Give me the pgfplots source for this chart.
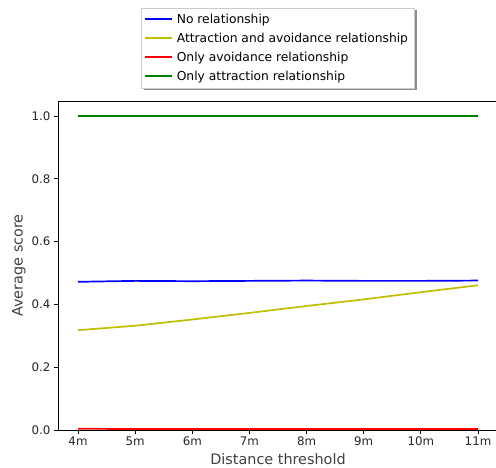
\documentclass[border=0pt]{standalone}
\usepackage{fontspec}
\setmainfont{DejaVu Sans}
\usepackage{pgfplots}
\pgfplotsset{compat=1.18}
\usetikzlibrary{backgrounds}
\definecolor{mplyellow}{rgb}{0.75,0.75,0}
\definecolor{mplgreen}{rgb}{0,0.5,0}
\definecolor{labgray}{gray}{0.25}
\begin{document}
\begin{tikzpicture}
\begin{axis}[
  name=ax,
  scale only axis,
  width=440pt, height=329pt,
  xmin=-0.35, xmax=7.35,
  ymin=0, ymax=1.048,
  clip=false,
  axis x line*=box,
  axis y line*=left,
  xtick={0,1,2,3,4,5,6,7},
  xticklabels={4m,5m,6m,7m,8m,9m,10m,11m},
  ytick={0,0.2,0.4,0.6,0.8,1.0},
  yticklabel style={/pgf/number format/fixed,/pgf/number format/precision=1,/pgf/number format/fixed zerofill},
  /pgf/number format/assume math mode=true,
  xtick pos=bottom, ytick pos=left,
  tick align=outside,
  major tick length=4.1pt,
  axis line style={line width=0.9pt},
  tick style={line width=0.9pt, black},
  ticklabel style={font=\fontsize{11.8}{13}\selectfont, text=black!85},
  xticklabel style={yshift=1pt},
  xlabel={Distance threshold},
  ylabel={Average score},
  label style={font=\fontsize{14.4}{16}\selectfont, text=labgray},
  xlabel style={yshift=-1pt},
  ylabel style={yshift=-1pt},
  legend style={name=leg, at={(0.5,1)}, anchor=south, yshift=13pt,
    font=\fontsize{12.3}{14}\selectfont, draw=black!20,
    fill=white, row sep=4.1pt, inner xsep=2.5pt, inner ysep=4pt,
    legend cell align=left,
    nodes={inner xsep=4pt}},
  legend image code/.code={\draw[#1, line width=1.8pt] (0pt,0.5pt) -- (27pt,0.5pt);},
]
\addplot[blue, line width=1.7pt] coordinates {(0,0.472) (1,0.475) (2,0.474) (3,0.475) (4,0.476) (5,0.475) (6,0.475) (7,0.476)};
\addlegendentry{No relationship}
\addplot[mplyellow, line width=1.7pt] coordinates {(0,0.318) (1,0.332) (2,0.352) (3,0.373) (4,0.395) (5,0.416) (6,0.439) (7,0.461)};
\addlegendentry{Attraction and avoidance relationship}
\addplot[red, line width=1.7pt] coordinates {(0,0.004) (1,0.003) (2,0.003) (3,0.003) (4,0.003) (5,0.003) (6,0.003) (7,0.003)};
\addlegendentry{Only avoidance relationship}
\addplot[mplgreen, line width=1.7pt] coordinates {(0,1.0) (1,1.0) (2,1.0) (3,1.0) (4,1.0) (5,1.0) (6,1.0) (7,1.0)};
\addlegendentry{Only attraction relationship}
\end{axis}
\begin{scope}[on background layer]
\fill[black!45] ([shift={(2.5pt,-2.5pt)}]leg.south west) rectangle ([shift={(2.5pt,-2.5pt)}]leg.north east);
\end{scope}
\pgfresetboundingbox
\path[use as bounding box] ([xshift=-58pt,yshift=-38pt]ax.south west) rectangle ([xshift=-2pt,yshift=101pt]ax.north east);
\end{tikzpicture}
\end{document}
